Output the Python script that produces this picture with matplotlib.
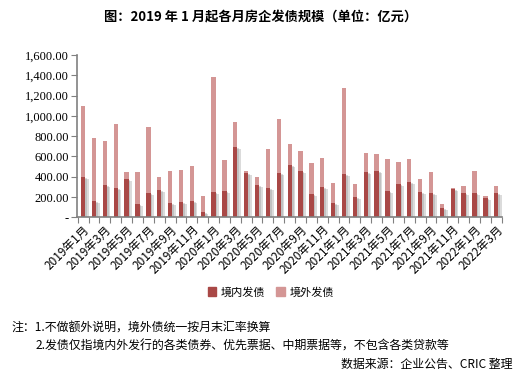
import matplotlib
matplotlib.use("Agg")
import matplotlib.pyplot as plt
import matplotlib.patheffects as pe
from matplotlib.patches import Patch
from matplotlib.ticker import FuncFormatter
import numpy as np

plt.rcParams['font.family'] = ['Noto Sans CJK SC', 'DejaVu Sans']

# --- DATA (亿元) ---
months = [f"{y}年{m}月" for y in (2019, 2020, 2021) for m in range(1, 13)] + \
         ["2022年1月", "2022年2月", "2022年3月"]
domestic = [400, 160, 320, 290, 380, 130, 240, 270, 140, 150, 160, 50,
            250, 260, 695, 440, 320, 290, 440, 515, 460, 230, 300, 140,
            430, 200, 450, 460, 260, 330, 350, 250, 240, 90, 280, 240,
            240, 190, 240]
total = [1100, 785, 755, 920, 450, 450, 890, 400, 460, 465, 505, 210,
         1385, 565, 940, 460, 400, 675, 970, 725, 655, 535, 585, 340,
         1280, 330, 635, 625, 575, 545, 575, 380, 450, 130, 290, 310,
         460, 210, 310]
overseas = [t - d for t, d in zip(total, domestic)]

c_dom = '#A94846'
c_ovs = '#D49695'

fig = plt.figure(figsize=(5.21, 3.88), dpi=100)
ax = fig.add_axes([0.148, 0.44, 0.816, 0.418])

x = np.arange(len(months))
# soft drop shadow to the right of the domestic bars
shadow = [pe.SimplePatchShadow(offset=(2.5, -1.5), shadow_rgbFace='#888888', alpha=0.3),
          pe.SimplePatchShadow(offset=(1.2, -0.8), shadow_rgbFace='#888888', alpha=0.3),
          pe.Normal()]
bd = ax.bar(x, domestic, width=0.4, color=c_dom, zorder=2)
for p in bd:
    p.set_path_effects(shadow)
ax.bar(x, overseas, width=0.4, bottom=domestic, color=c_ovs, zorder=3)

ax.set_xlim(-0.55, len(months) - 0.45)
ax.set_ylim(0, 1600)
ax.set_yticks(np.arange(0, 1601, 200))
ax.yaxis.set_major_formatter(FuncFormatter(lambda v, p: '-' if v == 0 else f"{v:,.2f}"))
for lab in ax.get_yticklabels():
    lab.set_fontfamily('Liberation Serif')
    lab.set_fontsize(9)

ax.set_xticks(np.arange(-0.5, len(months), 1), minor=False)
ax.set_xticklabels([])
ax.set_xticks(x[::2], minor=True)
ax.set_xticklabels(months[::2], minor=True, rotation=45, ha='right',
                   va='top', rotation_mode='anchor', fontsize=8.5)
ax.tick_params(axis='x', which='minor', length=0, pad=4)
ax.tick_params(axis='x', which='major', length=4, color='#808080')
ax.tick_params(axis='y', length=4, color='#808080', pad=2)

for s in ('top', 'right'):
    ax.spines[s].set_visible(False)
for s in ('left', 'bottom'):
    ax.spines[s].set_color('#808080')
    ax.spines[s].set_linewidth(1.2)

fig.text(0.5, 0.955, '图：2019 年 1 月起各月房企发债规模（单位：亿元）',
         ha='center', va='center', fontsize=9.5, fontweight='bold')

handles = [Patch(color=c_dom, label='境内发债'), Patch(color=c_ovs, label='境外发债')]
fig.legend(handles=handles, loc='center', bbox_to_anchor=(0.52, 0.247), ncol=2,
           frameon=False, fontsize=8, handlelength=0.8, handleheight=0.8,
           handletextpad=0.4, columnspacing=1.0)

fig.text(0.023, 0.155, '注：1.不做额外说明，境外债统一按月末汇率换算', fontsize=8.6, va='center')
fig.text(0.069, 0.108, '2.发债仅指境内外发行的各类债券、优先票据、中期票据等，不包含各类贷款等',
         fontsize=8.6, va='center')
fig.text(0.983, 0.06, '数据来源：企业公告、CRIC 整理', fontsize=8.6, va='center', ha='right')

fig.savefig('out.png', dpi=100)
